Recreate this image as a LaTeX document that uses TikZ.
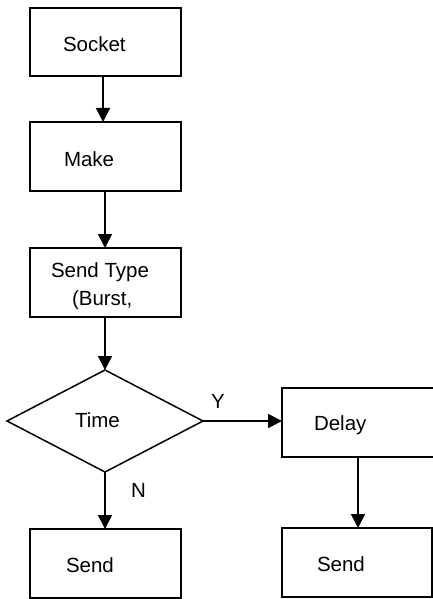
\documentclass[tikz,border=0pt]{standalone}
\usepackage{fontspec}
\setmainfont{Liberation Sans}
\usetikzlibrary{arrows.meta,shapes.geometric}
\begin{document}
\begin{tikzpicture}[x=1pt,y=-1pt,
  every node/.style={inner sep=0pt,outer sep=0pt},
  box/.style={draw,line width=1.7pt,rectangle},
  decision/.style={draw,line width=1.5pt,diamond},
  txt/.style={anchor=base west,font=\fontsize{20.5}{28}\selectfont},
  arr/.style={line width=1.7pt,-{Triangle[length=14pt,width=14pt]}}]
\useasboundingbox (0,0) rectangle (433,599);
% boxes
\node[box,minimum width=151pt,minimum height=68pt] (socket) at (105.5,42) {};
\node[box,minimum width=151pt,minimum height=69pt] (make) at (105.5,156.5) {};
\node[box,minimum width=151pt,minimum height=69pt] (stype) at (105.5,282.5) {};
\node[decision,minimum width=196pt,minimum height=102pt] (time) at (105,421) {};
\node[box,minimum width=160pt,minimum height=69pt] (delay) at (362,422.5) {};
\node[box,minimum width=151pt,minimum height=69pt] (sendl) at (105.5,563.5) {};
\node[box,minimum width=150pt,minimum height=69pt] (sendr) at (357,562.5) {};
% texts
\node[txt] (tsocket) at (63,52) {Socket};
\node[txt] (tmake) at (64,166) {Make};
\node[txt] (tstype1) at (51,277) {Send Type};
\node[txt] (tstype2) at (72,305) {(Burst,};
\node[txt] (ttime) at (75,427) {Time};
\node[txt] (tdelay) at (314,430) {Delay};
\node[txt] (tsendl) at (66,572) {Send};
\node[txt] (tsendr) at (317,571) {Send};
\node[txt] (ty) at (211,408) {Y};
\node[txt] (tn) at (131,497) {N};
% connectors
\draw[arr] ([xshift=-2.5pt]socket.south) -- ([xshift=-2.5pt]make.north);
\draw[arr] ([xshift=-0.5pt]make.south) -- ([xshift=-0.5pt]stype.north);
\draw[arr] ([xshift=-0.5pt]stype.south) -- (time.north);
\draw[arr] (time.east) -- (time.east -| delay.west);
\draw[arr] (time.south) -- (sendl.north -| time.south);
\draw[arr] ([xshift=-4pt]delay.south) -- ([xshift=1pt]sendr.north);
\end{tikzpicture}
\end{document}
